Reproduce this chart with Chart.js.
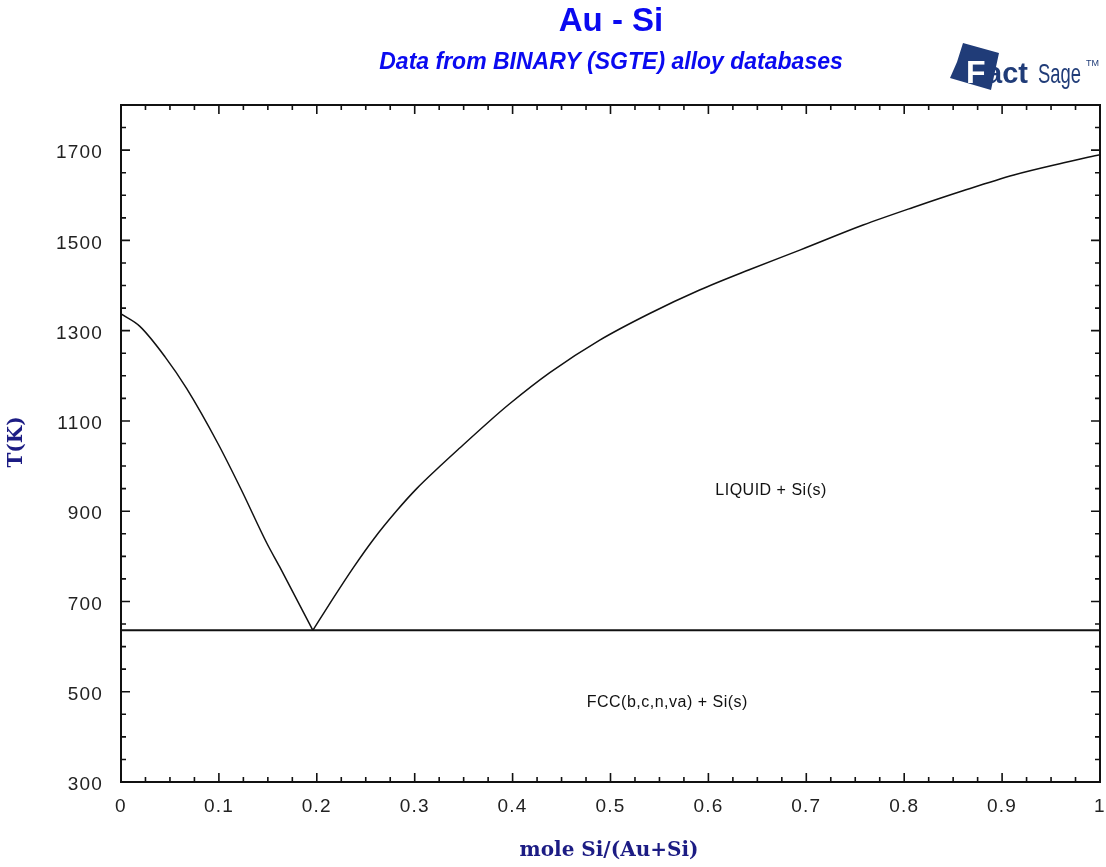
<!DOCTYPE html>
<html><head><meta charset="utf-8">
<script src="https://cdn.jsdelivr.net/npm/chart.js@4/dist/chart.umd.min.js"></script>
<style>html,body{margin:0;padding:0;background:#fff;}canvas{display:block;}</style>
</head><body>
<canvas id="c" width="1106" height="867"></canvas>
<script>
// Data
const liquidusAuX = [0, 0.019, 0.045, 0.067, 0.099, 0.123, 0.149, 0.162, 0.196];
const liquidusAuT = [1337, 1310, 1242, 1172, 1050, 947, 829, 777, 636];
const liquidusSiX = [0.196, 0.217, 0.237, 0.258, 0.282, 0.302, 0.326, 0.346, 0.374, 0.397, 0.438, 0.489, 0.540, 0.591, 0.643, 0.694, 0.758, 0.809, 0.860, 0.912, 0.963, 1.0];
const liquidusSiT = [636, 708, 774, 838, 902, 950, 1000, 1040, 1095, 1138, 1207, 1279, 1338, 1390, 1436, 1479, 1534, 1573, 1610, 1645, 1672, 1690];
const eutecticX = [0, 1];
const eutecticT = [636, 636];
const xTickValues = [0, 0.1, 0.2, 0.3, 0.4, 0.5, 0.6, 0.7, 0.8, 0.9, 1];
const yTickValues = [300, 500, 700, 900, 1100, 1300, 1500, 1700];
const regionLabels = ["LIQUID + Si(s)", "FCC(b,c,n,va) + Si(s)"];
const regionX = [0.664, 0.558];
const regionT = [945, 476];

const pts = (xs, ys) => xs.map((x, i) => ({x, y: ys[i]}));

const decor = {
  id: 'decor',
  beforeDraw(chart) { chart.ctx.letterSpacing = '1.2px'; },
  afterDraw(chart) {
    const ctx = chart.ctx;
    const xs = chart.scales.x, ys = chart.scales.y;
    const a = chart.chartArea;
    ctx.save();
    ctx.letterSpacing = '0px';
    // frame
    ctx.strokeStyle = '#111';
    ctx.lineWidth = 2;
    ctx.strokeRect(a.left, a.top, a.right - a.left, a.bottom - a.top);
    // ticks inward, all four sides
    ctx.lineWidth = 1.6;
    ctx.beginPath();
    for (let k = 0; k <= 40; k++) {
      const v = k * 0.025;
      const px = xs.getPixelForValue(v);
      const len = (k % 4 === 0) ? 9 : 5;
      ctx.moveTo(px, a.bottom); ctx.lineTo(px, a.bottom - len);
      ctx.moveTo(px, a.top); ctx.lineTo(px, a.top + len);
    }
    for (let t = 300; t <= 1800; t += 50) {
      const py = ys.getPixelForValue(t);
      const len = ((t - 300) % 200 === 0) ? 9 : 5;
      ctx.moveTo(a.left, py); ctx.lineTo(a.left + len, py);
      ctx.moveTo(a.right, py); ctx.lineTo(a.right - len, py);
    }
    ctx.stroke();
    // region labels
    ctx.fillStyle = '#111';
    ctx.font = '16px "Liberation Sans", Arial, sans-serif';
    ctx.letterSpacing = '0.5px';
    ctx.textAlign = 'center'; ctx.textBaseline = 'middle';
    regionLabels.forEach((s, i) => ctx.fillText(s, xs.getPixelForValue(regionX[i]), ys.getPixelForValue(regionT[i])));
    ctx.letterSpacing = '0px';
    // titles
    ctx.fillStyle = '#0a0af0';
    ctx.font = 'bold 33px "Liberation Sans", Arial, sans-serif';
    ctx.fillText('Au - Si', 611, 22);
    ctx.font = 'italic bold 23px "Liberation Sans", Arial, sans-serif';
    ctx.fillText('Data from BINARY (SGTE) alloy databases', 611, 63);
    // axis titles
    ctx.fillStyle = '#1c1c84';
    ctx.font = 'bold 20px "DejaVu Serif", "Liberation Serif", serif';
    ctx.fillText('mole Si/(Au+Si)', 609, 851);
    ctx.save();
    ctx.translate(17, 442);
    ctx.rotate(-Math.PI / 2);
    ctx.fillText('T(K)', 0, 0);
    ctx.restore();
    // logo
    ctx.fillStyle = '#203c78';
    ctx.beginPath();
    ctx.moveTo(963, 43); ctx.lineTo(999, 53); ctx.lineTo(991, 90); ctx.lineTo(950, 78); ctx.lineTo(957, 62);
    ctx.closePath(); ctx.fill();
    ctx.textAlign = 'left'; ctx.textBaseline = 'alphabetic';
    ctx.font = 'bold 32px "Liberation Sans", Arial, sans-serif';
    ctx.fillStyle = '#ffffff';
    ctx.fillText('F', 966, 83);
    ctx.fillStyle = '#203c78';
    ctx.font = 'bold 29px "Liberation Sans", Arial, sans-serif';
    ctx.fillText('act', 986, 83);
    ctx.save();
    ctx.translate(1038, 83); ctx.scale(0.8, 1.2);
    ctx.font = '23px "Liberation Sans", Arial, sans-serif';
    ctx.fillText('Sage', 0, 0);
    ctx.restore();
    ctx.font = '9px "Liberation Sans", Arial, sans-serif';
    ctx.fillText('TM', 1086, 66);
    ctx.restore();
  }
};

new Chart(document.getElementById('c'), {
  type: 'scatter',
  data: {
    datasets: [
      {data: pts(liquidusAuX, liquidusAuT), showLine: true, borderColor: '#111', borderWidth: 1.5, pointRadius: 0, cubicInterpolationMode: 'monotone'},
      {data: pts(liquidusSiX, liquidusSiT), showLine: true, borderColor: '#111', borderWidth: 1.5, pointRadius: 0, cubicInterpolationMode: 'monotone'},
      {data: pts(eutecticX, eutecticT), showLine: true, borderColor: '#111', borderWidth: 2, pointRadius: 0}
    ]
  },
  options: {
    responsive: false,
    animation: false,
    layout: {padding: {left: 0, right: 6, top: 105, bottom: 0}},
    plugins: {legend: {display: false}, tooltip: {enabled: false}, title: {display: false}},
    scales: {
      x: {
        type: 'linear', min: 0, max: 1,
        grid: {display: false, drawTicks: false},
        border: {display: false},
        afterBuildTicks: s => { s.ticks = xTickValues.map(v => ({value: v})); },
        afterFit: s => { s.height = 85; s.paddingLeft = 0; s.paddingRight = 0; },
        ticks: {padding: 13, color: '#222', maxRotation: 0, autoSkip: false,
          font: {family: '"Liberation Sans", Arial, sans-serif', size: 19},
          callback: v => String(v)}
      },
      y: {
        type: 'linear', min: 300, max: 1800,
        grid: {display: false, drawTicks: false},
        border: {display: false},
        afterBuildTicks: s => { s.ticks = yTickValues.map(v => ({value: v})); },
        afterFit: s => { s.width = 121; s.paddingTop = 0; s.paddingBottom = 0; },
        ticks: {padding: 18, labelOffset: 3, color: '#222', autoSkip: false,
          font: {family: '"Liberation Sans", Arial, sans-serif', size: 19},
          callback: v => String(v)}
      }
    }
  },
  plugins: [decor]
});
</script>
</body></html>
